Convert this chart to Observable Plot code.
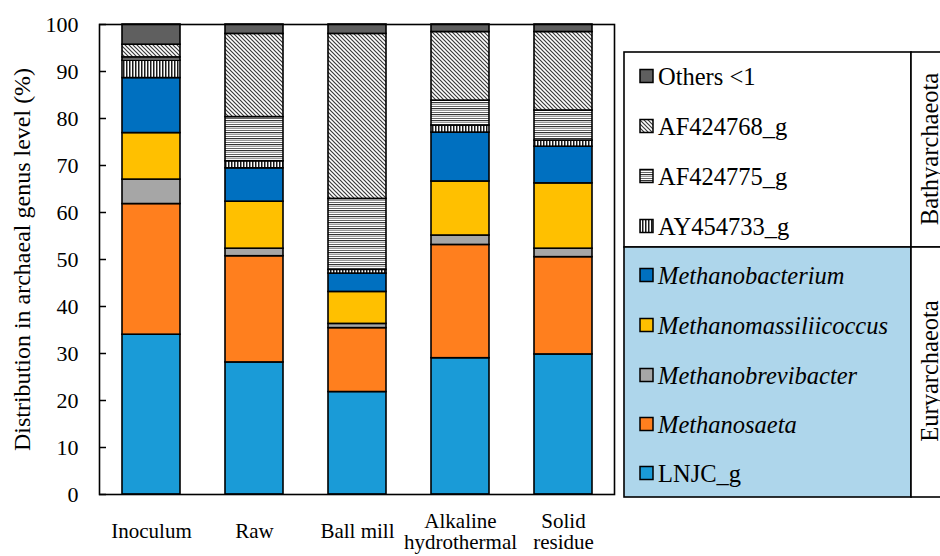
<!DOCTYPE html>
<html>
<head>
<meta charset="utf-8">
<script src="https://cdn.jsdelivr.net/npm/d3@7"></script>
<script src="https://cdn.jsdelivr.net/npm/@observablehq/plot@0.6"></script>
<style>
  html, body { margin: 0; padding: 0; background: #fff; }
  #chart { width: 940px; height: 556px; }
</style>
</head>
<body>
<div id="chart"></div>
<script>
// ---------- data ----------
const samples = ["Inoculum", "Raw", "Ball mill", "Alkaline hydrothermal", "Solid residue"];
const sampleLabels = ["Inoculum", "Raw", "Ball mill", "Alkaline\nhydrothermal", "Solid\nresidue"];
const genera = ["LNJC_g", "Methanosaeta", "Methanobrevibacter", "Methanomassiliicoccus", "Methanobacterium",
                "AY454733_g", "AF424775_g", "AF424768_g", "Others <1"];
const LNJC_g               = [34.0, 28.1, 21.8, 29.0, 29.8];
const Methanosaeta         = [27.8, 22.6, 13.6, 24.1, 20.7];
const Methanobrevibacter   = [5.2, 1.6, 0.9, 2.0, 1.8];
const Methanomassiliicoccus= [9.9, 10.0, 6.8, 11.5, 13.9];
const Methanobacterium     = [11.7, 7.1, 3.9, 10.4, 7.8];
const AY454733_g           = [3.7, 1.5, 0.8, 1.5, 1.3];
const AF424775_g           = [0.7, 9.4, 15.1, 5.3, 6.4];
const AF424768_g           = [2.7, 17.7, 35.1, 14.6, 16.7];
const Others               = [4.3, 2.0, 2.0, 1.6, 1.6];
const yTicks = [0, 10, 20, 30, 40, 50, 60, 70, 80, 90, 100];
const yLabel = "Distribution in archaeal genus level (%)";
const phyla = ["Bathyarchaeota", "Euryarchaeota"];

const seriesValues = [LNJC_g, Methanosaeta, Methanobrevibacter, Methanomassiliicoccus, Methanobacterium,
                      AY454733_g, AF424775_g, AF424768_g, Others];
const fills = ["#1A9BD7", "#FF7F1E", "#A6A6A6", "#FFC000", "#0070C0",
               "url(#pVert)", "url(#pHoriz)", "url(#pDiag)", "#5F5F5F"];

const table = [];
samples.forEach((s, i) => {
  genera.forEach((g, j) => table.push({sample: s, genus: g, value: seriesValues[j][i]}));
});

const FONT = "'Liberation Serif', 'Times New Roman', serif";

const chart = Plot.plot({
  width: 940,
  height: 556,
  marginLeft: 99,
  marginTop: 24,
  marginRight: 326,
  marginBottom: 62,
  style: {fontFamily: FONT, fontSize: "22px", background: "white", color: "black", overflow: "visible"},
  x: {domain: samples, paddingInner: 0.44, paddingOuter: 0.22, axis: null},
  y: {domain: [0, 100], axis: null},
  color: {domain: genera, range: fills},
  marks: [
    Plot.barY(table, {x: "sample", y: "value", z: "genus", fill: "genus", stroke: "black", strokeWidth: 1.6}),
    Plot.frame({stroke: "black", strokeWidth: 1.6}),
    Plot.axisY({ticks: yTicks, tickSize: 7, dx: 7, tickPadding: 21, fontSize: 22, label: null, strokeWidth: 1.5}),
    Plot.text(samples, {x: d => d, text: (d, i) => sampleLabels[i], frameAnchor: "bottom", dy: 37,
                        lineAnchor: "middle", lineHeight: 1.0, fontSize: 21}),
    Plot.text([yLabel], {frameAnchor: "left", textAnchor: "middle", rotate: -90, dx: -77, fontSize: 24, text: d => d})
  ]
});

document.getElementById("chart").appendChild(chart);

// ---------- patterns ----------
const svg = d3.select(chart);
const defs = svg.insert("defs", ":first-child");
const pd = defs.append("pattern").attr("id", "pDiag").attr("patternUnits", "userSpaceOnUse").attr("width", 4).attr("height", 4);
pd.append("rect").attr("width", 4).attr("height", 4).attr("fill", "#fff");
pd.append("path").attr("d", "M-1,-1L5,5M-1,3L1,5M3,-1L5,1").attr("stroke", "#3a3a3a").attr("stroke-width", 1.2);
const ph = defs.append("pattern").attr("id", "pHoriz").attr("patternUnits", "userSpaceOnUse").attr("width", 4).attr("height", 6);
ph.append("rect").attr("width", 4).attr("height", 6).attr("fill", "#fff");
ph.append("rect").attr("y", 0).attr("width", 4).attr("height", 1.2).attr("fill", "#333");
ph.append("rect").attr("y", 2).attr("width", 4).attr("height", 1).attr("fill", "#999");
ph.append("rect").attr("y", 4).attr("width", 4).attr("height", 1).attr("fill", "#666");
const pv = defs.append("pattern").attr("id", "pVert").attr("patternUnits", "userSpaceOnUse").attr("width", 3).attr("height", 4);
pv.append("rect").attr("width", 3).attr("height", 4).attr("fill", "#fff");
pv.append("rect").attr("width", 1.5).attr("height", 4).attr("fill", "#1a1a1a");

// ---------- legend ----------
const lg = svg.append("g").attr("font-family", FONT).attr("font-size", 24.5).attr("text-anchor", "start");
lg.append("rect").attr("x", 624).attr("y", 52).attr("width", 287).attr("height", 195)
  .attr("fill", "#fff").attr("stroke", "#000").attr("stroke-width", 1.6);
lg.append("rect").attr("x", 624).attr("y", 247).attr("width", 287).attr("height", 250)
  .attr("fill", "#AED6EB").attr("stroke", "#000").attr("stroke-width", 1.6);
lg.append("rect").attr("x", 911).attr("y", 52).attr("width", 60).attr("height", 195)
  .attr("fill", "#fff").attr("stroke", "#000").attr("stroke-width", 1.6);
lg.append("rect").attr("x", 911).attr("y", 247).attr("width", 60).attr("height", 250)
  .attr("fill", "#fff").attr("stroke", "#000").attr("stroke-width", 1.6);
const legendOrder = genera.slice().reverse();
const itemY = [76, 126, 176, 226, 275, 325, 375, 424, 473];
legendOrder.forEach((g, k) => {
  const j = genera.indexOf(g);
  const y = itemY[k];
  lg.append("rect").attr("x", 640).attr("y", y - 6.5).attr("width", 13).attr("height", 13)
    .attr("fill", fills[j]).attr("stroke", "#000").attr("stroke-width", 1.5);
  lg.append("text").attr("x", 658).attr("y", y).attr("dy", "0.35em").attr("text-anchor", "start")
    .attr("font-style", g.startsWith("Methano") ? "italic" : "normal").text(g);
});
lg.append("text").attr("transform", "translate(929,149) rotate(-90)").attr("text-anchor", "middle")
  .attr("dy", "0.35em").text(phyla[0]);
lg.append("text").attr("transform", "translate(929,371) rotate(-90)").attr("text-anchor", "middle")
  .attr("dy", "0.35em").text(phyla[1]);
</script>
</body>
</html>
